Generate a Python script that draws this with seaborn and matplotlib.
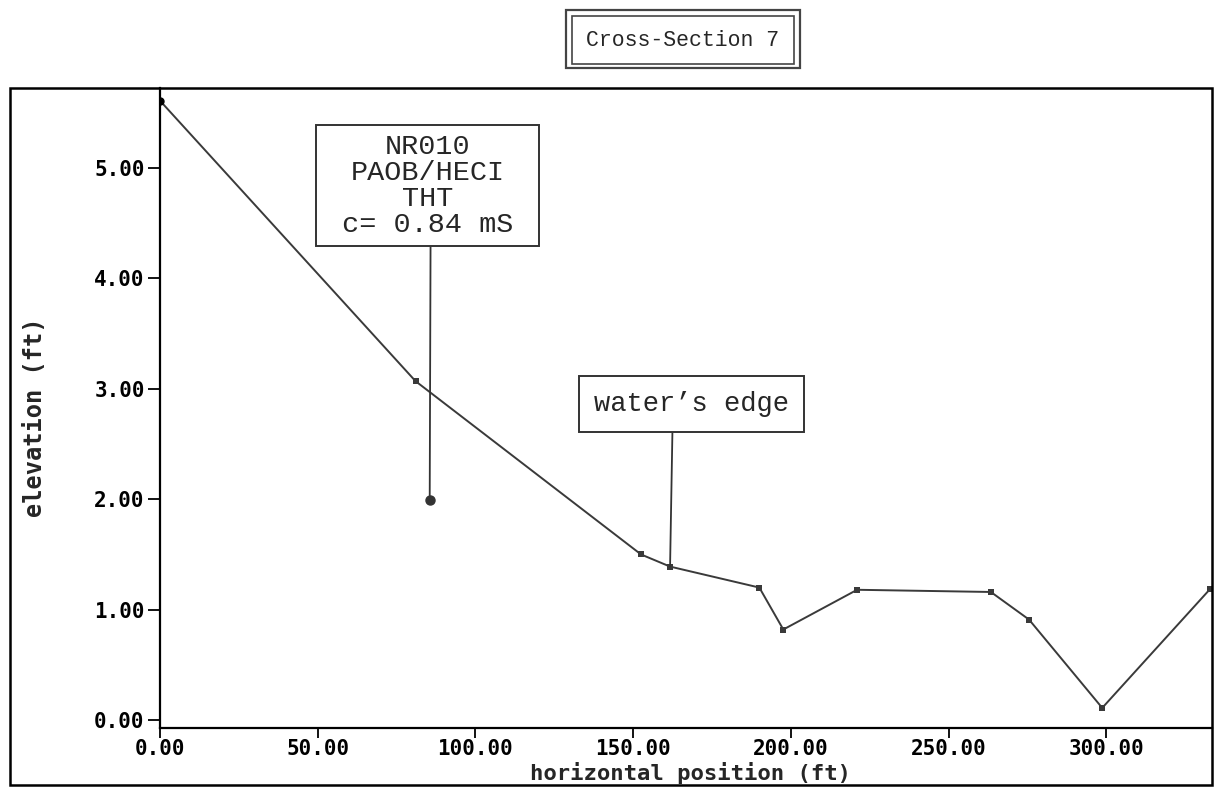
import numpy as np
import pandas as pd
import seaborn as sns
import matplotlib.pyplot as plt
from matplotlib.patches import Rectangle

# cross-section survey points
pos_ft = [0.0, 81.0, 152.5, 161.7, 190.0, 197.6, 221.0, 263.4, 275.5, 298.7, 333.0]
elev_ft = [5.61, 3.07, 1.50, 1.39, 1.20, 0.82, 1.18, 1.16, 0.91, 0.11, 1.19]

# probe location (conductivity reading)
probe_x = [85.5]
probe_y = [1.99]
probe_text = "NR010\nPAOB/HECI\nTHT\n c= 0.84 mS "

edge_label = "water\u2019s edge"
edge_idx = 3

xticks = [0, 50, 100, 150, 200, 250, 300]
yticks = [0, 1, 2, 3, 4, 5]

sns.set_style('ticks')
plt.rcParams['font.family'] = ['DejaVu Sans']

data = pd.DataFrame({'pos': pos_ft, 'elev': elev_ft})

W, H = 1222, 787
fig = plt.figure(figsize=(W / 100, H / 100), dpi=100)
ax = fig.add_axes([160 / W, 1 - 728 / H, (1212 - 160) / W, (728 - 88) / H])

line_col = '#3a3a3a'
sns.lineplot(data=data, x='pos', y='elev', ax=ax, color=line_col, lw=1.4,
             marker='s', markersize=5, markeredgewidth=0)
ax.plot(pos_ft[0], elev_ft[0], 'o', color='black', ms=5)
ax.plot(probe_x, probe_y, 'o', color='#333333', ms=6.5)

ax.set_xlim(0, 333.5)
ax.set_ylim(-0.072, 5.725)
ax.set_xticks(xticks)
ax.set_yticks(yticks)
tick_font = dict(family='DejaVu Sans Mono', fontweight='bold', fontsize=15)
ax.set_xticklabels([f'{v:.2f}' for v in xticks], **tick_font)
ax.set_yticklabels([f'{v:.2f}' for v in yticks], **tick_font)
ax.tick_params(axis='y', direction='out', length=9, width=1.3, colors='black', pad=2)
ax.tick_params(axis='x', direction='out', length=7, width=1.3, colors='black', pad=1)
ax.set_xlabel('horizontal position (ft)', family='DejaVu Sans Mono',
              fontweight='bold', fontsize=16)
ax.set_ylabel('elevation (ft)', family='DejaVu Sans Mono',
              fontweight='bold', fontsize=17)
ax.xaxis.set_label_coords(0.504, -0.053)
ax.yaxis.set_label_coords(-0.107, 0.486)
for s in ['left', 'bottom']:
    ax.spines[s].set_linewidth(1.6)
    ax.spines[s].set_color('black')
ax.spines['top'].set_visible(False)
ax.spines['right'].set_visible(False)

ax.annotate(probe_text, xy=(probe_x[0], probe_y[0]), xytext=(84.8, 4.84),
            ha='center', va='center', family='Liberation Mono', fontsize=20.5,
            linespacing=1.0,
            bbox=dict(boxstyle='square,pad=0.3', fc='white', ec='#333333', lw=1.4),
            arrowprops=dict(arrowstyle='-', color='#333333', lw=1.3,
                            shrinkA=0, shrinkB=0, relpos=(0.515, 0)))
ax.annotate(edge_label, xy=(pos_ft[edge_idx], elev_ft[edge_idx]),
            xytext=(168.4, 2.86), ha='center', va='center',
            family='Liberation Mono', fontsize=19.5,
            bbox=dict(boxstyle='square,pad=0.55', fc='white', ec='#333333', lw=1.4),
            arrowprops=dict(arrowstyle='-', color='#333333', lw=1.3,
                            shrinkA=0, shrinkB=0, relpos=(0.405, 0)))

# outer frame
fig.patches.append(Rectangle((10 / W, 1 - 785 / H), (1212 - 10) / W, (785 - 88) / H,
                             transform=fig.transFigure, fill=False,
                             ec='black', lw=1.8))

# title with double border
fig.text(683 / W, 1 - 40 / H, 'Cross-Section 7', ha='center', va='center',
         family='Liberation Mono', fontsize=15.5,
         bbox=dict(boxstyle='square,pad=0.65', fc='white', ec='#444444', lw=1.2))
fig.patches.append(Rectangle((566 / W, 1 - 68 / H), (800 - 566) / W, (68 - 10) / H,
                             transform=fig.transFigure, fill=False,
                             ec='#444444', lw=1.6))

plt.savefig('out.png', dpi=100)
